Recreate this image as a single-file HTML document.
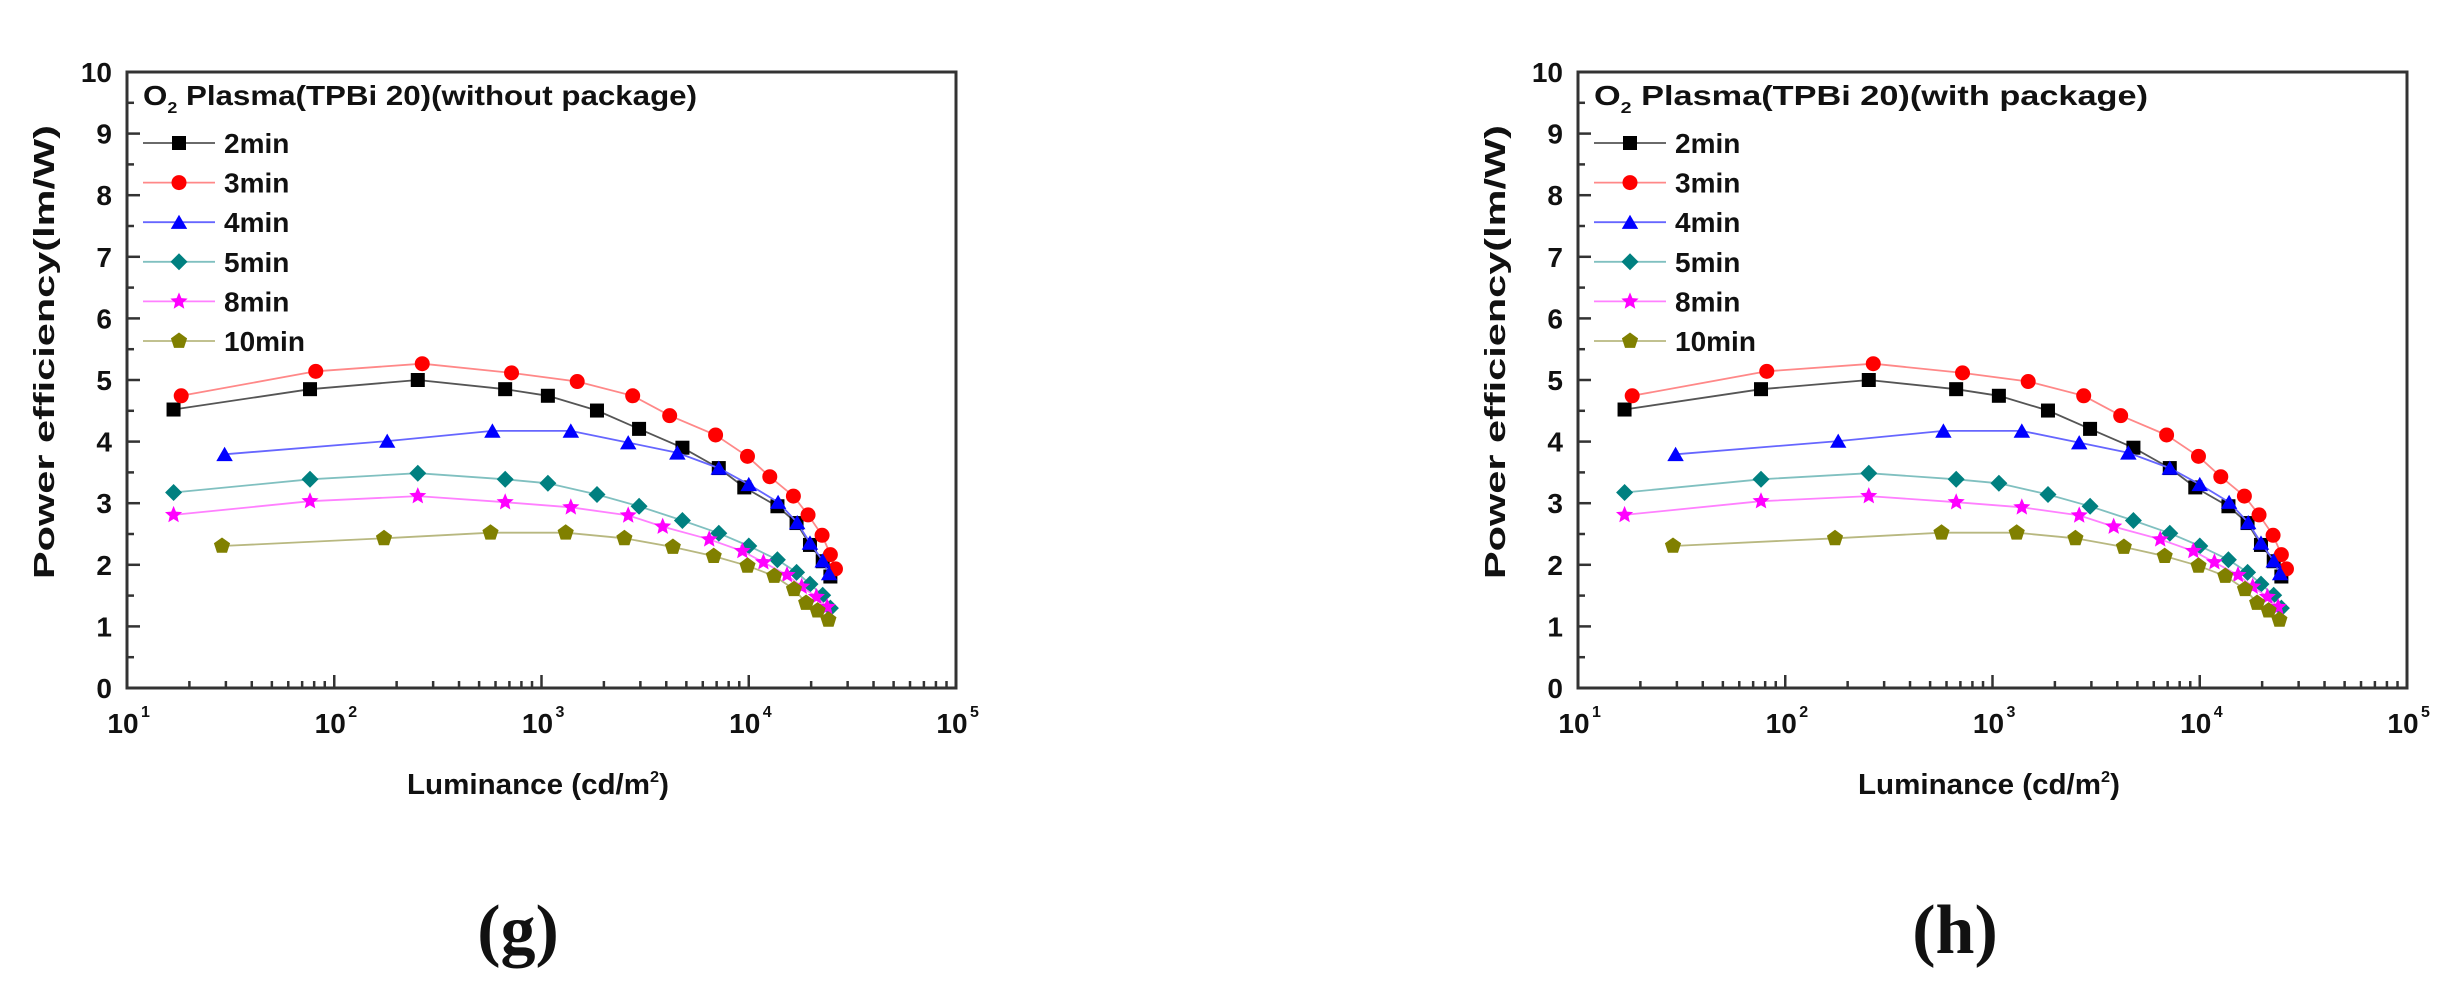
<!DOCTYPE html>
<html><head><meta charset="utf-8"><style>
html,body{margin:0;padding:0;background:#fff;width:2440px;height:1004px;overflow:hidden}
svg text{font-family:"Liberation Sans",Arial,sans-serif;font-weight:bold;fill:#111}
</style></head><body>
<svg id="s" width="2440" height="1004" xmlns="http://www.w3.org/2000/svg"></svg>
<script>
var S=document.getElementById('s');var out='';
var L=127,R=956,T=72,B=688;
function X(px){return 127+(px-197)*829/1300}
function Y(py){return 72+(py-137)*616/1210}
function lx(v){return L+(v-1)*(R-L)/4}
function ly(v){return B-v*(B-T)/10}
var series=[
{c:'#000',lc:'#555',m:'sq',p:[[270,800],[484,760],[653,742],[790,760],[857,773],[934,802],[1000,838],[1068,875],[1125,915],[1165,953],[1217,990],[1247,1023],[1268,1066],[1288,1098],[1300,1128]]},
{c:'#ff0000',lc:'#ff8888',m:'ci',p:[[282,773],[493,725],[660,710],[800,728],[903,745],[990,773],[1048,812],[1120,850],[1170,892],[1205,932],[1242,970],[1265,1007],[1287,1047],[1300,1085],[1308,1113]]},
{c:'#0000ff',lc:'#6666ff',m:'tr',p:[[350,888],[605,862],[770,842],[893,842],[983,865],[1060,885],[1125,915],[1172,947],[1218,982],[1248,1022],[1268,1062],[1288,1097],[1298,1122]]},
{c:'#008080',lc:'#80c0c0',m:'di',p:[[270,963],[484,937],[653,925],[790,937],[857,945],[934,967],[1000,990],[1068,1018],[1125,1043],[1172,1068],[1217,1095],[1247,1120],[1268,1143],[1288,1165],[1300,1190]]},
{c:'#ff00ff',lc:'#ff80ff',m:'st',p:[[270,1007],[484,980],[653,970],[790,982],[893,992],[983,1008],[1037,1030],[1110,1055],[1162,1078],[1195,1100],[1232,1125],[1255,1148],[1278,1168],[1295,1188]]},
{c:'#808000',lc:'#b8b880',m:'pe',p:[[346,1068],[600,1053],[767,1042],[885,1042],[977,1053],[1053,1070],[1117,1088],[1170,1107],[1212,1127],[1243,1153],[1262,1180],[1280,1195],[1297,1213]]}];
var names=['2min','3min','4min','5min','8min','10min'];
function poly(n,r,x,y,rot,inner){var s='';var k=inner?2*n:n;for(var i=0;i<k;i++){var a=rot+i*2*Math.PI/k;var rr=inner&&(i%2)?r*inner:r;s+=(x+rr*Math.sin(a)).toFixed(1)+','+(y-rr*Math.cos(a)).toFixed(1)+' ';}return s}
function mk(m,x,y,c){
 if(m=='sq')return '<rect x="'+(x-7)+'" y="'+(y-7)+'" width="14" height="14" fill="'+c+'"/>';
 if(m=='ci')return '<circle cx="'+x+'" cy="'+y+'" r="7.5" fill="'+c+'"/>';
 if(m=='tr')return '<polygon points="'+poly(3,9.5,x,y+2,0)+'" fill="'+c+'"/>';
 if(m=='di')return '<polygon points="'+poly(4,8.5,x,y,0)+'" fill="'+c+'"/>';
 if(m=='st')return '<polygon points="'+poly(5,9,x,y,0,0.45)+'" fill="'+c+'"/>';
 if(m=='pe')return '<polygon points="'+poly(5,8.5,x,y,0)+'" fill="'+c+'"/>';
}
function panel(dx,title,lab,labx){
 var g='<g transform="translate('+dx+',0)">';
 // ticks
 for(var v=0;v<=10;v++){var y=ly(v);g+='<line x1="'+L+'" x2="'+(L+13)+'" y1="'+y+'" y2="'+y+'" stroke="#333" stroke-width="2.5"/>';
  g+='<text x="112" y="'+(y+10)+'" font-size="28" text-anchor="end">'+v+'</text>';
  if(v<10){var y2=ly(v+0.5);g+='<line x1="'+L+'" x2="'+(L+7)+'" y1="'+y2+'" y2="'+y2+'" stroke="#333" stroke-width="2.5"/>';}}
 for(var d=1;d<=5;d++){var x=lx(d);g+='<line x1="'+x+'" x2="'+x+'" y1="'+B+'" y2="'+(B-13)+'" stroke="#333" stroke-width="2.5"/>';
  g+='<text x="'+(x-4)+'" y="'+733+'" font-size="28" text-anchor="middle">10</text><text x="'+(x+14)+'" y="717" font-size="16">'+d+'</text>';
  if(d<5)for(var k=2;k<10;k++){var xx=lx(d+Math.log10(k));g+='<line x1="'+xx+'" x2="'+xx+'" y1="'+B+'" y2="'+(B-7)+'" stroke="#333" stroke-width="2.5"/>';}}
 g+='<rect x="'+L+'" y="'+T+'" width="'+(R-L)+'" height="'+(B-T)+'" fill="none" stroke="#333" stroke-width="3"/>';
 // series
 series.forEach(function(s){var pts=s.p.map(function(q){return [X(q[0]),Y(q[1])]});
  g+='<polyline points="'+pts.map(function(q){return q[0].toFixed(1)+','+q[1].toFixed(1)}).join(' ')+'" fill="none" stroke="'+s.lc+'" stroke-width="1.8"/>';
  pts.forEach(function(q){g+=mk(s.m,q[0],q[1],s.c)});});
 // legend
 g+='<text x="143" y="105" font-size="28" textLength="554" lengthAdjust="spacingAndGlyphs">O<tspan font-size="16" dy="8">2</tspan><tspan dy="-8"> '+title+'</tspan></text>';
 series.forEach(function(s,i){var y=143+i*39.6;g+='<line x1="143" x2="215" y1="'+y+'" y2="'+y+'" stroke="'+s.lc+'" stroke-width="1.8"/>'+mk(s.m,179,y,s.c);
  g+='<text x="224" y="'+(y+10)+'" font-size="28">'+names[i]+'</text>';});
 // axis labels
 g+='<text transform="translate(54,352) rotate(-90)" font-size="29" text-anchor="middle" textLength="454" lengthAdjust="spacingAndGlyphs">Power efficiency(lm/W)</text>';
 g+='<text x="407" y="794" font-size="29" textLength="262" lengthAdjust="spacingAndGlyphs">Luminance (cd/m<tspan font-size="16" dy="-12">2</tspan><tspan dy="12">)</tspan></text>';
 g+='</g>';
 g+='<text x="'+labx+'" y="953" font-size="70" text-anchor="middle" style="font-family:\'Liberation Serif\',serif;font-weight:bold">'+lab+'</text>';
 return g;}
out+=panel(0,'Plasma(TPBi 20)(without package)','(g)',518);
out+=panel(1451,'Plasma(TPBi 20)(with package)','(h)',1955);
S.innerHTML=out;
</script>
</body></html>
